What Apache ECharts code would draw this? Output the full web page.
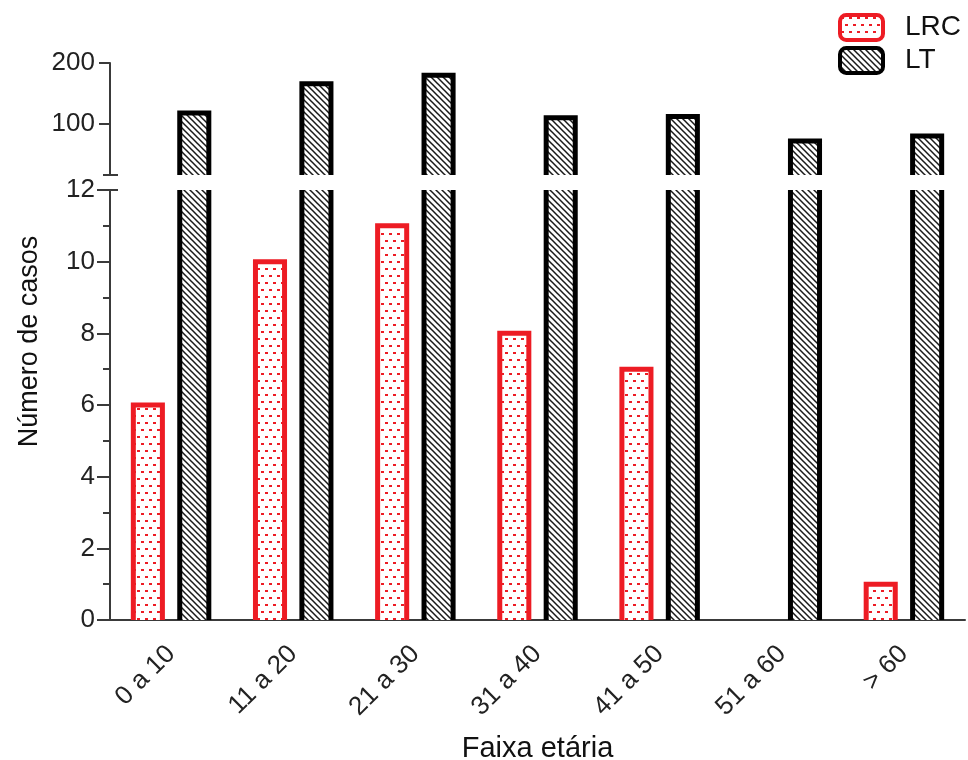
<!DOCTYPE html>
<html>
<head>
<meta charset="utf-8">
<script src="https://cdn.jsdelivr.net/npm/echarts@6/dist/echarts.min.js"></script>
<style>
  html, body { margin: 0; padding: 0; background: #ffffff; }
  #chart { width: 968px; height: 760px; }
</style>
</head>
<body>
<div id="chart"></div>
<script>
// Age groups and case counts
const categories = ['0 a 10', '11 a 20', '21 a 30', '31 a 40', '41 a 50', '51 a 60', '> 60'];
const lrcValues = [6, 10, 11, 8, 7, 0, 1];
const ltValues = [118, 166, 180, 110, 112, 72, 80];

// Axis segments (broken y axis)
const lowerMin = 0, lowerMax = 12, lowerStep = 2;
const upperMin = 16, upperMax = 200;
const upperTickValues = [100, 200];

const FONT = "'Liberation Sans', Arial, sans-serif";
const RED = '#ed1c24';
const BLACK = '#000000';
const AXIS = '#3a3a3a';
const TEXT = '#222222';
const BAR_FRAC = 0.238;   // bar width as a fraction of the category band
const BAR_SHIFT = 0.19;   // bar centre offset from band centre
const BORDER = 5;

// Fill patterns
function dotPattern() {
  const c = document.createElement('canvas');
  c.width = 8; c.height = 14;
  const g = c.getContext('2d');
  g.fillStyle = '#ffffff'; g.fillRect(0, 0, 8, 14);
  g.fillStyle = RED;
  g.fillRect(1, 2, 3, 2);
  g.fillRect(5, 9, 3, 2);
  return { image: c, repeat: 'repeat' };
}
function hatchPattern() {
  const c = document.createElement('canvas');
  c.width = 6; c.height = 6;
  const g = c.getContext('2d');
  g.fillStyle = '#ffffff'; g.fillRect(0, 0, 6, 6);
  g.strokeStyle = '#1a1a1a'; g.lineWidth = 1.5;
  g.beginPath();
  g.moveTo(-3, -3); g.lineTo(9, 9);
  g.moveTo(-3, 3); g.lineTo(3, 9);
  g.moveTo(3, -3); g.lineTo(9, 3);
  g.stroke();
  return { image: c, repeat: 'repeat' };
}
const dots = dotPattern();
const hatch = hatchPattern();

// Open-bottom outlined bar; sides only when the value runs past the segment top
function barRenderer(shift, fill, stroke, axisMin, axisMax) {
  return function (params, api) {
    const v = api.value(1);
    if (!(v > axisMin)) return null;
    const idx = api.value(0);
    const band = api.size([1, 0])[0];
    const basePt = api.coord([idx, axisMin]);
    const cx = basePt[0] + shift * band;
    const w = BAR_FRAC * band;
    const base = basePt[1];
    const clipped = v > axisMax;
    const top = api.coord([idx, Math.min(v, axisMax)])[1];
    const x0 = cx - w / 2, x1 = cx + w / 2;
    const children = [{
      type: 'rect',
      shape: { x: x0, y: top, width: w, height: base - top },
      style: { fill: fill }
    }];
    if (clipped) {
      children.push({ type: 'line', shape: { x1: x0, y1: base, x2: x0, y2: top }, style: { stroke: stroke, lineWidth: BORDER } });
      children.push({ type: 'line', shape: { x1: x1, y1: base, x2: x1, y2: top }, style: { stroke: stroke, lineWidth: BORDER } });
    } else {
      children.push({
        type: 'polyline',
        shape: { points: [[x0, base], [x0, top], [x1, top], [x1, base]] },
        style: { stroke: stroke, lineWidth: BORDER, fill: null, lineJoin: 'miter' }
      });
    }
    return { type: 'group', children: children };
  };
}

const toPairs = arr => arr.map((v, i) => [i, v]);

const chart = echarts.init(document.getElementById('chart'), null, { renderer: 'canvas' });

const option = {
  backgroundColor: '#ffffff',
  animation: false,
  textStyle: { fontFamily: FONT },
  legend: {
    orient: 'vertical',
    left: 833,
    top: 8,
    itemWidth: 43,
    itemHeight: 25,
    itemGap: 4,
    icon: 'roundRect',
    selectedMode: false,
    textStyle: { fontSize: 28, color: '#111111', fontFamily: FONT, padding: [0, 0, 0, 17] },
    data: [
      { name: 'LRC', itemStyle: { color: dots, borderColor: RED, borderWidth: 4 } },
      { name: 'LT', itemStyle: { color: hatch, borderColor: BLACK, borderWidth: 4 } }
    ]
  },
  grid: [
    { left: 110, right: 3, top: 190, bottom: 140, outerBoundsMode: 'none', containLabel: false },
    { left: 110, right: 3, top: 63, height: 112, outerBoundsMode: 'none', containLabel: false }
  ],
  xAxis: [
    {
      type: 'category',
      gridIndex: 0,
      data: categories,
      axisLine: { lineStyle: { color: AXIS, width: 2 } },
      axisTick: { alignWithLabel: true, length: 11, lineStyle: { color: AXIS, width: 2 } },
      axisLabel: { rotate: 45, fontSize: 26, color: TEXT, fontFamily: FONT, margin: 30 },
      name: 'Faixa etária',
      nameLocation: 'middle',
      nameGap: 114,
      nameTextStyle: { fontSize: 29, color: '#111111', fontFamily: FONT }
    },
    {
      type: 'category',
      gridIndex: 1,
      data: categories,
      show: false
    }
  ],
  yAxis: [
    {
      type: 'value',
      gridIndex: 0,
      min: lowerMin,
      max: lowerMax,
      interval: lowerStep,
      axisLine: { show: true, lineStyle: { color: AXIS, width: 2 } },
      axisTick: { show: true, length: 13, lineStyle: { color: AXIS, width: 2 } },
      minorTick: { show: true, splitNumber: 2, length: 7, lineStyle: { color: AXIS, width: 2 } },
      axisLabel: { fontSize: 26, color: TEXT, fontFamily: FONT, margin: 15 },
      splitLine: { show: false }
    },
    {
      type: 'value',
      gridIndex: 1,
      min: upperMin,
      max: upperMax,
      axisLine: { show: true, lineStyle: { color: AXIS, width: 2 } },
      axisTick: { show: true, length: 11, customValues: upperTickValues, lineStyle: { color: AXIS, width: 2 } },
      axisLabel: { fontSize: 26, color: TEXT, fontFamily: FONT, margin: 15, customValues: upperTickValues },
      splitLine: { show: false }
    }
  ],
  series: [
    {
      name: 'LRC',
      type: 'custom',
      xAxisIndex: 0, yAxisIndex: 0,
      itemStyle: { color: RED },
      encode: { x: 0, y: 1 },
      renderItem: barRenderer(-BAR_SHIFT, dots, RED, lowerMin, lowerMax),
      data: toPairs(lrcValues),
      z: 3
    },
    {
      name: 'LT',
      type: 'custom',
      xAxisIndex: 0, yAxisIndex: 0,
      itemStyle: { color: BLACK },
      encode: { x: 0, y: 1 },
      renderItem: barRenderer(BAR_SHIFT, hatch, BLACK, lowerMin, lowerMax),
      data: toPairs(ltValues),
      z: 3
    },
    {
      name: 'LT',
      type: 'custom',
      xAxisIndex: 1, yAxisIndex: 1,
      itemStyle: { color: BLACK },
      encode: { x: 0, y: 1 },
      renderItem: barRenderer(BAR_SHIFT, hatch, BLACK, upperMin, upperMax),
      data: toPairs(ltValues),
      z: 3
    }
  ]
};

chart.setOption(option);

// Break caps on the y axis and the vertical axis title spanning both segments
const axisX = 110;
const upperBottom = chart.convertToPixel({ yAxisIndex: 1 }, upperMin);
const upperTop = chart.convertToPixel({ yAxisIndex: 1 }, upperMax);
const lowerTop = chart.convertToPixel({ yAxisIndex: 0 }, lowerMax);
const lowerBottom = chart.convertToPixel({ yAxisIndex: 0 }, lowerMin);

chart.setOption({
  graphic: [
    { type: 'line', shape: { x1: axisX - 7, y1: upperBottom, x2: axisX + 8, y2: upperBottom }, style: { stroke: AXIS, lineWidth: 2 }, silent: true },
    { type: 'line', shape: { x1: axisX, y1: lowerTop, x2: axisX + 8, y2: lowerTop }, style: { stroke: AXIS, lineWidth: 2 }, silent: true },
    {
      type: 'text',
      x: 30,
      y: (upperTop + lowerBottom) / 2,
      rotation: Math.PI / 2,
      style: {
        text: 'Número de casos',
        font: '27px ' + FONT,
        fill: '#111111',
        align: 'center',
        verticalAlign: 'middle'
      },
      silent: true
    }
  ]
});
</script>
</body>
</html>
